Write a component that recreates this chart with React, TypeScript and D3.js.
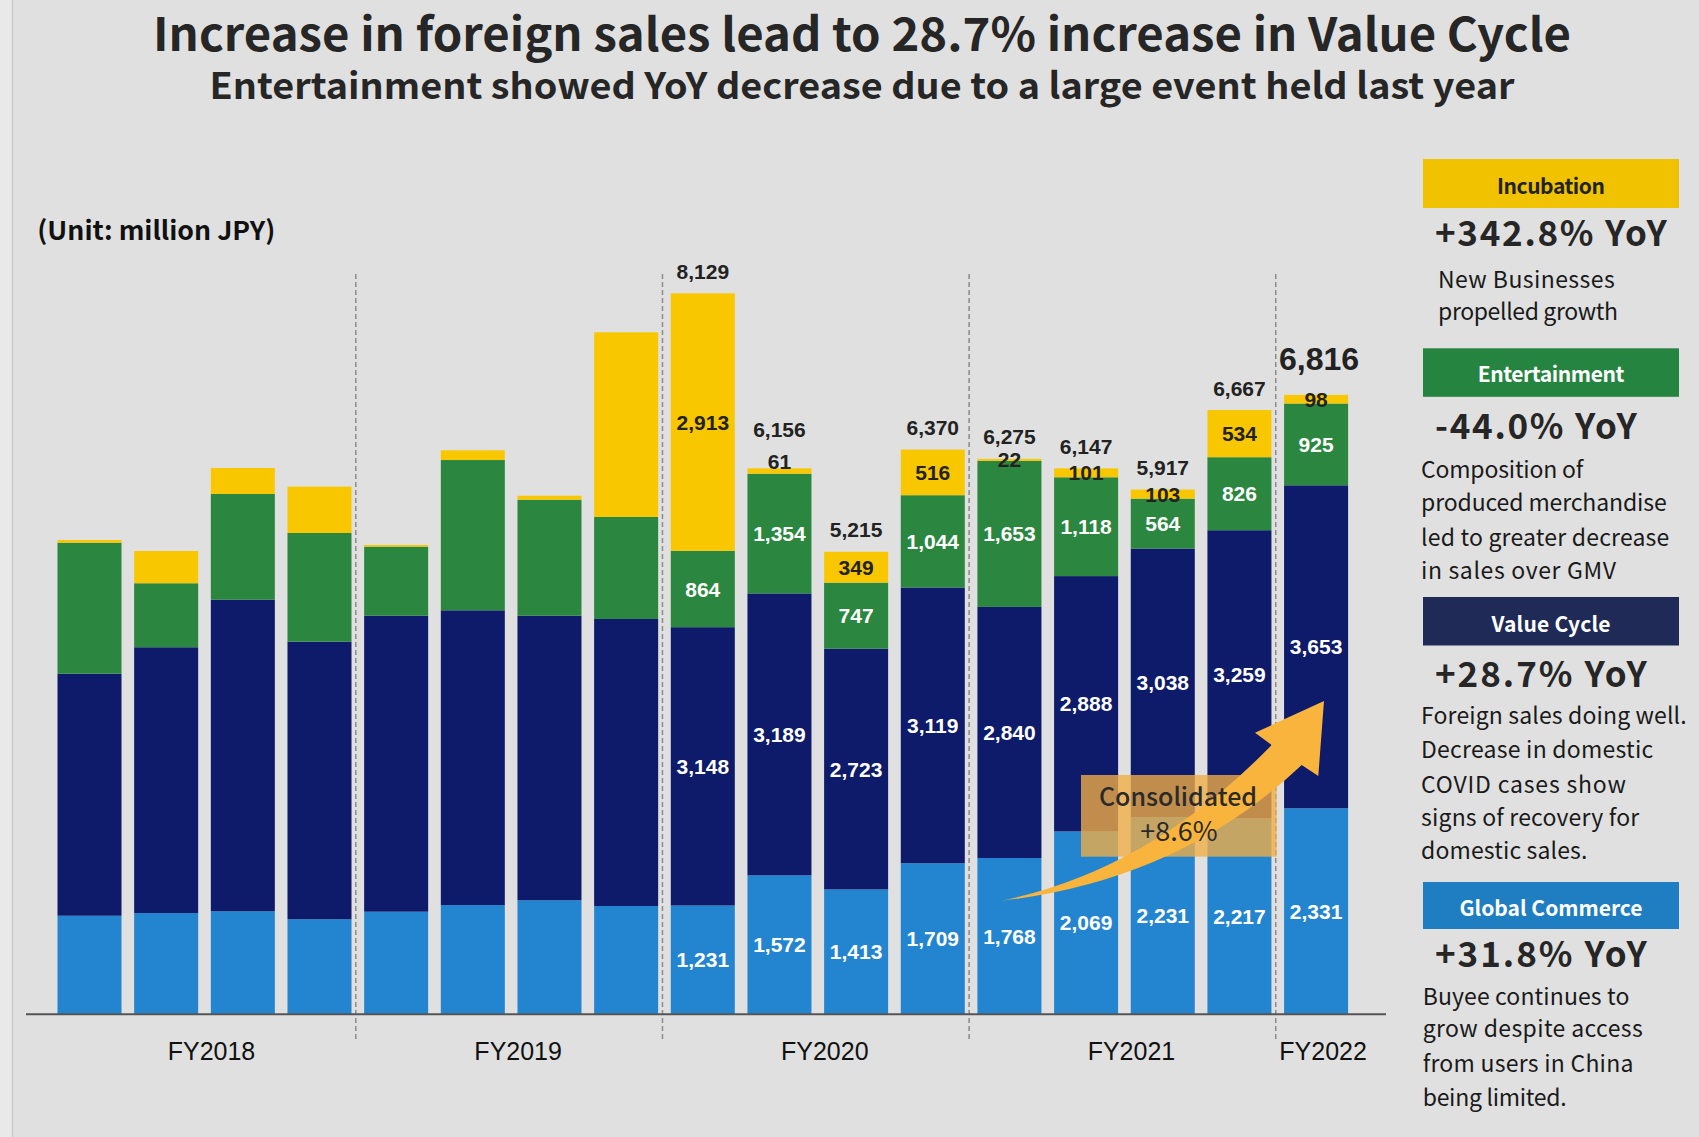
import React from "react";
import * as d3 from "d3";

// ---------- DATA ----------
const periods = [
  "FY2018 Q1", "FY2018 Q2", "FY2018 Q3", "FY2018 Q4",
  "FY2019 Q1", "FY2019 Q2", "FY2019 Q3", "FY2019 Q4",
  "FY2020 Q1", "FY2020 Q2", "FY2020 Q3", "FY2020 Q4",
  "FY2021 Q1", "FY2021 Q2", "FY2021 Q3", "FY2021 Q4",
  "FY2022 Q1",
];
const fiscalYears = ["FY2018", "FY2019", "FY2020", "FY2021", "FY2022"];

const globalCommerce = [1115, 1146, 1165, 1075, 1161, 1236, 1290, 1225, 1231, 1572, 1413, 1709, 1768, 2069, 2231, 2217, 2331];
const valueCycle = [2738, 3006, 3525, 3140, 3348, 3334, 3219, 3247, 3148, 3189, 2723, 3119, 2840, 2888, 3038, 3259, 3653];
const entertainment = [1482, 724, 1196, 1230, 781, 1700, 1312, 1154, 864, 1354, 747, 1044, 1653, 1118, 564, 826, 925];
const incubation = [30, 365, 294, 524, 19, 110, 45, 2089, 2913, 61, 349, 516, 22, 101, 103, 534, 98];
const totals: (number | null)[] = [null, null, null, null, null, null, null, null, 8129, 6156, 5215, 6370, 6275, 6147, 5917, 6667, 6816];

const seriesKeys = ["gc", "vc", "ent", "inc"];
const seriesNames = ["Global Commerce", "Value Cycle", "Entertainment", "Incubation"];
const seriesColors = ["#2385d0", "#0e1a6a", "#2b873f", "#f9c700"];

const panelTitles = ["Incubation", "Entertainment", "Value Cycle", "Global Commerce"];
const panelYoY = ["+342.8% YoY", "-44.0% YoY", "+28.7% YoY", "+31.8% YoY"];
const panelNotes = [
  ["New Businesses", "propelled growth"],
  ["Composition of", "produced merchandise", "led to greater decrease", "in sales over GMV"],
  ["Foreign sales doing well.", "Decrease in domestic", "COVID cases show", "signs of recovery for", "domestic sales."],
  ["Buyee continues to", "grow despite access", "from users in China", "being limited."],
];

const titleText = "Increase in foreign sales lead to 28.7% increase in Value Cycle";
const subtitleText = "Entertainment showed YoY decrease due to a large event held last year";
const unitText = "(Unit: million JPY)";
const consolidatedText = ["Consolidated", "+8.6%"];

// ---------- LAYOUT ----------
const W = 1699;
const H = 1137;
const BASE_Y = 1014.3;
const PX_PER_UNIT = 0.0884;
const JP = "'Noto Sans CJK JP', 'Noto Sans', sans-serif";
const AR = "'Liberation Sans', Arial, sans-serif";

const panelBoxColors = ["#f0c200", "#258440", "#1f2a57", "#1f7dc1"];
const panelBoxText = ["#222", "#fff", "#fff", "#fff"];
const panelBoxY = [159, 348.3, 597, 882];
const panelBoxH = [49, 48.5, 48.5, 47];
const panelLabelBase = [194, 381.7, 631.5, 915.5];
const panelLabelW = [108, 146.7, 119, 183];
const panelYoYBase = [246, 439.3, 687, 966.5];
const panelYoYW = [231.7, 201.7, 211.7, 211.7];
const panelNoteX = [1438, 1421, 1421, 1422.7];
const panelNoteBase = [
  [288.3, 320],
  [478.3, 510.7, 546, 579.3],
  [724, 757.6, 793, 825.5, 858.7],
  [1004.5, 1036.8, 1072, 1105.5],
];
const panelNoteW = [
  [176.7, 180],
  [162.3, 245.7, 248.3, 195],
  [265.7, 232.3, 205, 218.3, 166.3],
  [206.7, 220, 210.7, 144],
];

export default function App() {
  const rows = periods.map((p, i) => ({
    period: p,
    fy: p.slice(0, 6),
    gc: globalCommerce[i],
    vc: valueCycle[i],
    ent: entertainment[i],
    inc: incubation[i],
    total: totals[i],
  }));

  const stack = d3.stack<any>().keys(seriesKeys);
  const layers = stack(rows);

  const x = d3
    .scaleBand<string>()
    .domain(periods)
    .range([57.5, 1348.1])
    .paddingInner(0.165)
    .paddingOuter(0);
  const bw = x.bandwidth();

  const yMax = 9000;
  const y = d3.scaleLinear().domain([0, yMax]).range([BASE_Y, BASE_Y - yMax * PX_PER_UNIT]);
  const fmt = d3.format(",");

  const raised = new Set(["FY2020 Q2"]);

  const groups = fiscalYears.map((fy) => {
    const ps = periods.filter((p) => p.startsWith(fy));
    const x0 = x(ps[0])!;
    const x1 = x(ps[ps.length - 1])! + bw;
    return { fy, x0, x1 };
  });
  const dividers = groups.slice(1).map((g, i) => (groups[i].x1 + g.x0) / 2 - 2);

  const topOf = (i: number) => layers[layers.length - 1][i][1];

  return (
    <svg
      width={W}
      height={H}
      style={{ position: "absolute", left: 0, top: 0, display: "block" }}
      xmlns="http://www.w3.org/2000/svg"
    >
      <rect x={0} y={0} width={W} height={H} fill="#e0e0e0" />
      <rect x={0} y={0} width={12} height={H} fill="#e9e9e9" />
      <line x1={12.5} x2={12.5} y1={0} y2={H} stroke="#cbcbcb" strokeWidth={1.5} />

      {/* Titles */}
      <text x={862} y={50.7} textAnchor="middle" fontFamily={JP} fontWeight={700} fontSize={46}
        fill="#262626" textLength={1418} lengthAdjust="spacingAndGlyphs">{titleText}</text>
      <text x={862} y={99} textAnchor="middle" fontFamily={JP} fontWeight={700} fontSize={36}
        fill="#262626" textLength={1305} lengthAdjust="spacingAndGlyphs">{subtitleText}</text>
      <text x={37.3} y={240} fontFamily={JP} fontWeight={700} fontSize={26}
        fill="#111" textLength={238} lengthAdjust="spacingAndGlyphs">{unitText}</text>

      {/* Dividers */}
      {dividers.map((dx, i) => (
        <line key={i} x1={dx} x2={dx} y1={274} y2={1042} stroke="#8a8a8a" strokeWidth={1.5} strokeDasharray="5,3" />
      ))}

      {/* Bars */}
      {layers.map((layer, li) => (
        <g key={layer.key} fill={seriesColors[li]}>
          {layer.map((d, i) => (
            <rect key={i} x={x(periods[i])} y={y(d[1])} width={bw} height={Math.max(0, y(d[0]) - y(d[1]))} />
          ))}
        </g>
      ))}

      {/* Baseline */}
      <line x1={26} x2={1386} y1={BASE_Y} y2={BASE_Y} stroke="#555" strokeWidth={2} />

      {/* Category labels */}
      {groups.map((g) => (
        <text key={g.fy} x={(g.x0 + g.x1) / 2 + 7} y={1060} textAnchor="middle" fontFamily={AR}
          fontSize={25} fill="#111">{g.fy}</text>
      ))}

      {/* Consolidated annotation */}
      <rect x={1081} y={775} width={195.7} height={81.7} fill="#f2ae45" fillOpacity={0.78} />
      <path
        d="M1001.7,900.7 Q1150,870 1271.7,745 L1255,732.7 L1324,701 L1318.3,776 L1301.7,765 Q1180,880 1001.7,900.7 Z"
        fill="#f8b43c"
      />
      <text x={1178} y={806} textAnchor="middle" fontFamily={JP} fontWeight={500} fontSize={25} fill="#2a2a2a">
        {consolidatedText[0]}
      </text>
      <text x={1179} y={841} textAnchor="middle" fontFamily={JP} fontWeight={400} fontSize={27} fill="#2a2a2a">
        {consolidatedText[1]}
      </text>

      {/* Segment labels */}
      {layers.map((layer, li) =>
        layer.map((d, i) => {
          if (rows[i].total == null) return null;
          const v = d[1] - d[0];
          const isInc = li === layers.length - 1;
          let cy = y((d[0] + d[1]) / 2);
          if (isInc && raised.has(periods[i])) cy = y(d[1]) - 7;
          return (
            <text key={`${li}-${i}`} x={x(periods[i])! + bw / 2} y={cy} dy="0.36em" textAnchor="middle"
              fontFamily={AR} fontWeight={700} fontSize={21} fill={isInc ? "#222" : "#fff"}>
              {fmt(v)}
            </text>
          );
        })
      )}

      {/* Totals */}
      {rows.map((r, i) => {
        if (r.total == null) return null;
        const last = i === rows.length - 1;
        const off = last ? 36.6 : raised.has(r.period) ? 39 : 22;
        return (
          <text key={`t${i}`} x={x(r.period)! + bw / 2 + (last ? 3 : 0)} y={y(topOf(i)) - off} dy="0.36em"
            textAnchor="middle" fontFamily={AR} fontWeight={700} fontSize={last ? 32 : 21} fill="#222">
            {fmt(r.total)}
          </text>
        );
      })}

      {/* Right panel */}
      {panelTitles.map((t, k) => (
        <g key={t}>
          <rect x={1423} y={panelBoxY[k]} width={256} height={panelBoxH[k]} fill={panelBoxColors[k]} />
          <text x={1551} y={panelLabelBase[k]} textAnchor="middle" fontFamily={JP} fontWeight={700}
            fontSize={21} fill={panelBoxText[k]} textLength={panelLabelW[k]} lengthAdjust="spacing">{t}</text>
          <text x={1435} y={panelYoYBase[k]} fontFamily={JP} fontWeight={700} fontSize={35} fill="#262626"
            textLength={panelYoYW[k]} lengthAdjust="spacing">{panelYoY[k]}</text>
          {panelNotes[k].map((line, j) => (
            <text key={j} x={panelNoteX[k]} y={panelNoteBase[k][j]} fontFamily={JP} fontWeight={400}
              fontSize={23} fill="#1a1a1a" textLength={panelNoteW[k][j]} lengthAdjust="spacing">{line}</text>
          ))}
        </g>
      ))}
    </svg>
  );
}
